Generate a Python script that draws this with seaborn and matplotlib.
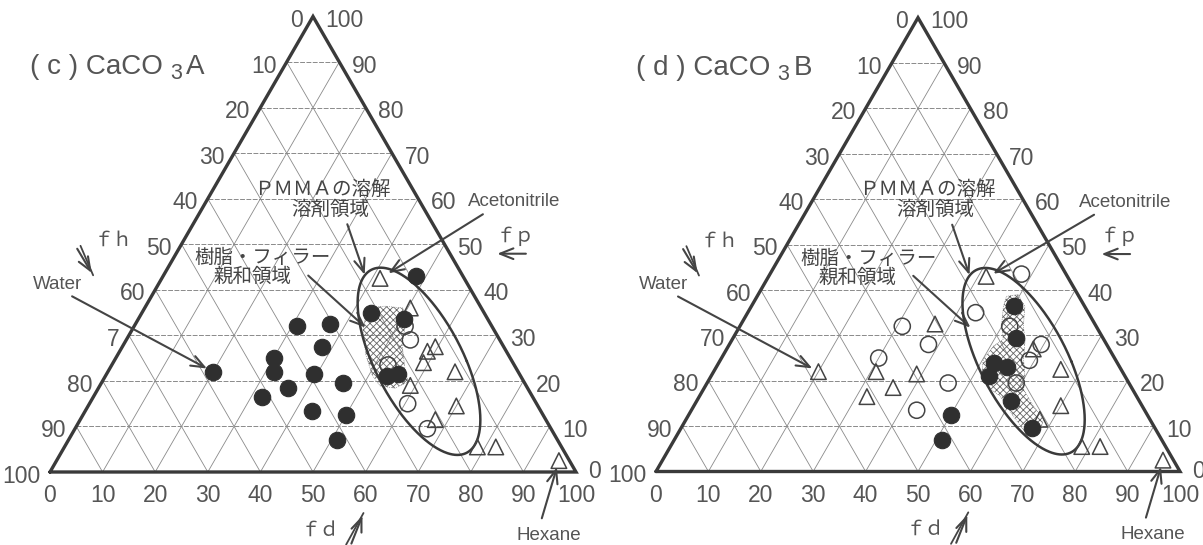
import numpy as np
import pandas as pd
import matplotlib
matplotlib.use("Agg")
import matplotlib.pyplot as plt
from matplotlib.patches import Polygon
import seaborn as sns

# ---------------- data: Teas fractions (fd, fp); fh = 100 - fd - fp ----------------
# (c) CaCO3 A
c_filled_fd = [20, 31, 37, 38, 30, 31.5, 39.5, 46, 36, 32, 43, 50, 51, 48, 43.5, 50.5, 53.5, 55.5]
c_filled_fp = [22, 32, 32.5, 27.5, 25, 22, 21.5, 19.5, 18.5, 16.5, 13.5, 12.5, 7, 43, 35, 33.5, 21, 21.5]
c_open_fd = [51.5, 54, 52.5, 60.5, 67]
c_open_fp = [32, 29, 23.5, 15, 9.5]
c_tri_fd = [41.5, 50.5, 59.5, 58.5, 59, 66, 59, 70, 67.5, 78.5, 82, 95.5]
c_tri_fp = [42.5, 36, 27.5, 26.5, 24, 22, 19, 14.5, 11.5, 5.5, 5.5, 2.5]
c_region_fd = [42.3, 45.5, 49.1, 51.4, 53.0, 56.3, 58.2, 56.4, 53.3, 50.6, 47.2, 43.9]
c_region_fp = [36.0, 36.4, 36.0, 32.3, 27.9, 22.4, 19.8, 18.4, 18.9, 21.3, 25.7, 31.2]

# (d) CaCO3 B
d_filled_fd = [50, 54, 52.5, 55.5, 53, 60, 67, 50, 51]
d_filled_fp = [36.5, 29.5, 24, 23, 21, 15.5, 9.5, 12.5, 7]
d_open_fd = [48, 43.5, 31, 38, 30, 51.5, 59.5, 59, 59, 46, 43]
d_open_fp = [43.5, 35, 32, 28, 25, 32, 28, 24.5, 19.5, 19.5, 13.5]
d_tri_fd = [41.5, 37, 58.5, 20, 31, 39, 36, 32, 66, 70, 67.5, 78.5, 82, 95.5]
d_tri_fp = [43, 32.5, 27, 22, 22, 21.5, 18.5, 16.5, 22.5, 14.5, 11.5, 5.5, 5.5, 2.5]
d_region_fd = [47.6, 49.6, 52.2, 54.1, 55.9, 57.8, 59.9, 61.1, 64.8, 68.2, 69.0, 66.7,
               62.1, 57.4, 53.7, 51.3, 50.1, 50.6, 51.7, 49.6, 48.1]
d_region_fp = [38.6, 39.0, 36.4, 32.0, 29.1, 24.7, 21.0, 18.1, 14.4, 11.5, 8.5, 8.2,
               12.2, 16.6, 18.8, 21.8, 24.7, 27.6, 29.1, 32.8, 36.4]

# labelled solvents
solvent_names = ["Water", "Acetonitrile", "Hexane"]
solvent_fd = [20, 41.5, 95.5]
solvent_fp = [22, 42.5, 2.5]

# PMMA solubility ellipse (centre in fd, fp; half chord, half height, shear)
ellipse_centre = (58.0, 24.3)
ellipse_half_w = 9.1
ellipse_half_h = 17.8
ellipse_shear = -0.41

# axis tick labels
grid_values = list(range(0, 101, 10))
bottom_labels = [str(v) for v in grid_values]
right_labels = [str(v) for v in grid_values]
c_left_labels = ["0", "10", "20", "30", "40", "50", "60", "7", "80", "90", "100"]
d_left_labels = ["0", "10", "20", "30", "40", "50", "60", "70", "80", "90", "100"]

SQ = np.sqrt(3) / 2


def to_xy(fd, fp):
    fd = np.asarray(fd, float)
    fp = np.asarray(fp, float)
    return fd + fp / 2, fp * SQ


# ---------------- style ----------------
sns.set_theme(style="white")
plt.rcParams["font.family"] = ["Liberation Sans", "Noto Sans CJK JP", "DejaVu Sans"]
plt.rcParams["hatch.linewidth"] = 0.6

LINE = "#3a3a3a"
GRID = "#8a8a8a"
TEXT = "#555555"
DARK = "#444444"
NUM_FONT = ["Liberation Sans Narrow", "Liberation Sans"]
JP_FONT = ["Noto Sans CJK JP", "DejaVu Sans"]

W, H = 1203, 545
fig = plt.figure(figsize=(W / 100, H / 100), dpi=100)
fig.patch.set_facecolor("white")

panels = [
    dict(tag="c", letter="A", px0=0, px1=601, ox=50, oy=472, scale=5.26,
         filled=(c_filled_fd, c_filled_fp), open_=(c_open_fd, c_open_fp),
         tri=(c_tri_fd, c_tri_fp), region=(c_region_fd, c_region_fp),
         left_labels=c_left_labels, acet_dx=0.0),
    dict(tag="d", letter="B", px0=601, px1=1203, ox=656, oy=471.5, scale=5.24,
         filled=(d_filled_fd, d_filled_fp), open_=(d_open_fd, d_open_fp),
         tri=(d_tri_fd, d_tri_fp), region=(d_region_fd, d_region_fp),
         left_labels=d_left_labels, acet_dx=1.3),
]

arrow_kw = dict(arrowstyle="->,head_length=0.8,head_width=0.32", lw=1.5, color=DARK)


def double_arrow(ax, tip, start, spread):
    """Two converging strokes ending in one arrow head."""
    ax.annotate("", xy=tip, xytext=start, arrowprops=arrow_kw)
    ax.annotate("", xy=tip, xytext=(start[0] + spread[0], start[1] + spread[1]),
                arrowprops=dict(arrowstyle="-", lw=1.3, color=DARK, shrinkA=0, shrinkB=0))


for p in panels:
    ax = fig.add_axes([p["px0"] / W, 0, (p["px1"] - p["px0"]) / W, 1])
    ax.set_xlim((p["px0"] - p["ox"]) / p["scale"], (p["px1"] - p["ox"]) / p["scale"])
    ax.set_ylim((p["oy"] - H) / p["scale"], p["oy"] / p["scale"])
    ax.axis("off")

    # grid lines of the ternary diagram
    for v in grid_values[1:-1]:
        x, y = to_xy([0, 100 - v], [v, v])
        ax.plot(x, y, color=GRID, lw=0.7, ls=(0, (5, 1.5)), zorder=1)
        x, y = to_xy([v, v], [0, 100 - v])
        ax.plot(x, y, color=GRID, lw=0.6, zorder=1)
        x, y = to_xy([100 - v, 0], [0, 100 - v])
        ax.plot(x, y, color=GRID, lw=0.6, zorder=1)
    x, y = to_xy([0, 100, 0, 0], [0, 0, 100, 0])
    ax.plot(x, y, color=LINE, lw=2.4, solid_joinstyle="miter", zorder=3)

    # tick labels on the three sides
    for v, lab in zip(grid_values, bottom_labels):
        x, y = to_xy(v, 0)
        ax.annotate(lab, (x, y), xytext=(0, -17), textcoords="offset points",
                    ha="center", va="center", fontsize=16.5, color=TEXT, family=NUM_FONT)
    for v, lab in zip(grid_values, right_labels):
        x, y = to_xy(100 - v, v)
        dy = 0 if v == 0 else -3
        ax.annotate(lab, (x, y), xytext=(9, dy), textcoords="offset points",
                    ha="left", va="center", fontsize=16.5, color=TEXT, family=NUM_FONT)
    for v, lab in zip(grid_values, p["left_labels"]):
        x, y = to_xy(0, 100 - v)
        ax.annotate(lab, (x, y), xytext=(-7, -3), textcoords="offset points",
                    ha="right", va="center", fontsize=16.5, color=TEXT, family=NUM_FONT)

    # affinity region (cross-hatched)
    rx, ry = to_xy(*p["region"])
    ax.add_patch(Polygon(np.column_stack([rx, ry]), closed=True, facecolor="none",
                         edgecolor="#666666", hatch="xxxxx", lw=0.5, ls=":", zorder=2))

    # solubility ellipse
    t = np.linspace(0, 2 * np.pi, 400)
    cx, cy = to_xy(*ellipse_centre)
    ex = cx + ellipse_half_w * np.cos(t) + ellipse_shear * ellipse_half_h * np.sin(t)
    ey = cy + ellipse_half_h * np.sin(t)
    ax.plot(ex, ey, color=LINE, lw=1.8, zorder=4)

    # solvent markers
    ox_, oy_ = to_xy(*p["open_"])
    sns.scatterplot(x=ox_, y=oy_, ax=ax, marker="o", s=135, facecolors="none",
                    edgecolor=DARK, linewidth=1.1, zorder=5, legend=False)
    tx, ty = to_xy(*p["tri"])
    sns.scatterplot(x=tx, y=ty, ax=ax, marker="^", s=125, facecolors="none",
                    edgecolor=DARK, linewidth=1.1, zorder=5, legend=False)
    fx, fy = to_xy(*p["filled"])
    sns.scatterplot(x=fx, y=fy, ax=ax, marker="o", s=140, color="#2f2f2f",
                    edgecolor="#2f2f2f", linewidth=0.8, zorder=6, legend=False)

    # title
    t1 = ax.text(-3.8, 77.0, f"( {p['tag']} ) CaCO", fontsize=20, color=TEXT,
                 family="Liberation Sans", ha="left", va="center")
    t2 = ax.annotate("3", xy=(1, 0), xycoords=t1, xytext=(5, -3), textcoords="offset points",
                     fontsize=15.5, color=TEXT, family="Liberation Sans", ha="left", va="bottom")
    ax.annotate(p["letter"], xy=(1, 0), xycoords=t2, xytext=(3, 3), textcoords="offset points",
                fontsize=20, color=TEXT, family="Liberation Sans", ha="left", va="bottom")

    # region annotations
    ax.text(51.7, 53.8, "ＰＭＭＡの溶解", fontsize=14, color=DARK, family=JP_FONT,
            ha="center", va="center")
    ax.text(53.2, 50.0, "溶剤領域", fontsize=14, color=DARK, family=JP_FONT,
            ha="center", va="center")
    ax.annotate("", xy=(60.0, 37.0), xytext=(56.35, 47.6), arrowprops=arrow_kw)
    ax.text(40.5, 40.7, "樹脂・フィラー", fontsize=14, color=DARK, family=JP_FONT,
            ha="center", va="center")
    ax.text(38.4, 37.1, "親和領域", fontsize=14, color=DARK, family=JP_FONT,
            ha="center", va="center")
    ax.annotate("", xy=(60.4, 27.1), xytext=(48.7, 37.7), arrowprops=arrow_kw)

    # solvent labels
    sx, sy = to_xy(solvent_fd, solvent_fp)
    label_pos = {"Water": (1.5, 35.6), "Acetonitrile": (88.2 + p["acet_dx"], 51.4),
                 "Hexane": (94.9, -12.0)}
    arrow_from = {"Water": (4.2, 33.4), "Acetonitrile": (82.3 + p["acet_dx"], 49.0),
                  "Hexane": (93.5, -8.8)}
    shrink = {"Water": 5, "Acetonitrile": 7, "Hexane": 5}
    for name, x, y in zip(solvent_names, sx, sy):
        ax.text(*label_pos[name], name, fontsize=13.5, color=TEXT, family="Liberation Sans",
                ha="center", va="center")
        ax.annotate("", xy=(x, y), xytext=arrow_from[name],
                    arrowprops=dict(arrow_kw, shrinkA=0, shrinkB=shrink[name]))

    # component axis names
    ax.text(12.0, 44.0, "ｆｈ", fontsize=14, color=TEXT, family=JP_FONT, ha="center", va="center")
    double_arrow(ax, (8.2, 37.4), (4.9, 42.9), (0.9, 0.1))
    ax.text(88.4, 44.8, "ｆｐ", fontsize=14, color=TEXT, family=JP_FONT, ha="center", va="center")
    ax.annotate("", xy=(84.5, 41.5), xytext=(91.0, 41.5), arrowprops=arrow_kw)
    ax.text(51.4, -11.1, "ｆｄ", fontsize=14, color=TEXT, family=JP_FONT, ha="center", va="center")
    double_arrow(ax, (59.6, -7.8), (57.1, -14.1), (-0.8, 0.3))

fig.savefig("out.png", dpi=100, facecolor="white")
